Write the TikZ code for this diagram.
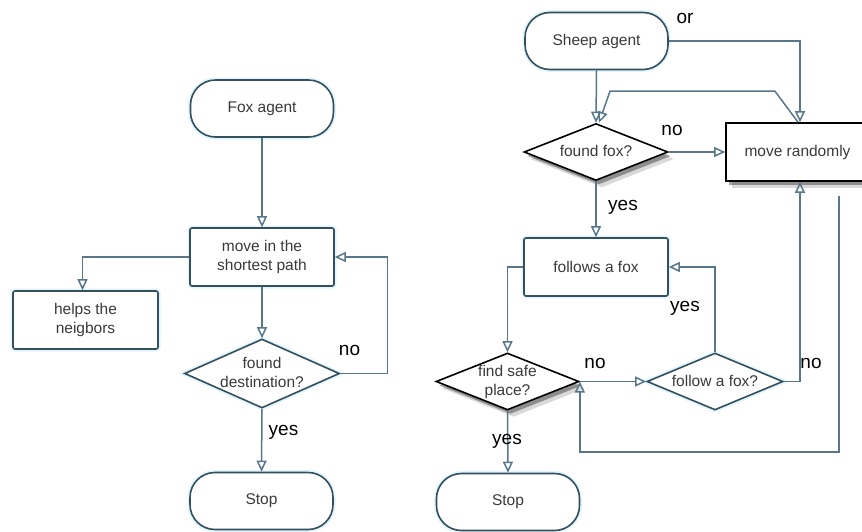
\documentclass[tikz,border=0pt]{standalone}
\usepackage{fontspec}
\setmainfont{Liberation Sans}
\usetikzlibrary{arrows.meta,shapes.geometric,shadows}
\definecolor{linec}{HTML}{58788A}
\definecolor{bordc}{HTML}{34505C}
\definecolor{txtc}{HTML}{3A3A3A}
\newcommand{\ztext}[1]{\smash{\makebox[0pt]{\raisebox{-0.3em}{\begin{tabular}[c]{@{}c@{}}#1\end{tabular}}}}}
\begin{document}
\begin{tikzpicture}[x=1pt,y=-1pt,
 base/.style={draw=bordc, line width=1.6pt, fill=white, text=txtc, font=\fontsize{15.5}{19}\selectfont, align=center, inner sep=0pt},
 glow/.style={preaction={draw=cyan!12, line width=5pt}},
 term/.style={base, glow, rounded corners=25pt, minimum width=143pt, minimum height=57pt},
 proc/.style={base, rounded corners=2pt, minimum width=144pt, minimum height=58pt},
 dec/.style={base, diamond},
 shd/.style={draw=black, drop shadow={shadow xshift=6pt, shadow yshift=-7pt, opacity=.15, fill=black}, drop shadow={shadow xshift=3pt, shadow yshift=-4pt, opacity=.35, fill=black}},
 conn/.style={draw=linec, line width=1.5pt, -{Triangle[open, length=11pt, width=10pt]}},
 lbl/.style={font=\fontsize{19}{22}\selectfont, text=black, inner sep=0pt}
]
\useasboundingbox (0,0) rectangle (862,531);
\clip (0,0) rectangle (862,531);
% Fox column
\node[term] (fox) at (262,108.5) {Fox agent};
\node[proc, glow] (move) at (262,257) {move in the\\shortest path};
\node[proc, glow, minimum width=145pt] (helps) at (85.5,320) {helps the\\neigbors};
\node[dec, glow, minimum width=155pt, minimum height=69pt] (dest) at (262,373.5) {\ztext{found\\destination?}};
\node[term] (stopa) at (261.5,501) {Stop};
\draw[conn] (fox.south) -- (move.north);
\draw[conn] (move.west) -| ([xshift=-3pt]helps.north);
\draw[conn] (move.south) -- (dest.north);
\draw[conn] (dest.east) -- ++(47,0) |- (move.east);
\draw[conn] (dest.south) -- (stopa.north);
\node[lbl] (nodest) at (349.5,350) {no};
\node[lbl] (yesdest) at (283.5,432) {yes};
% Sheep column
\node[term] (sheep) at (596.5,41) {Sheep agent};
\node[dec, shd, minimum width=144pt, minimum height=57pt] (ffox) at (596,152) {\ztext{found fox?}};
\node[proc, shd, rounded corners=0pt, minimum width=143pt] (mrand) at (797.5,152) {move randomly};
\node[proc, glow] (follows) at (596,267) {follows a fox};
\node[dec, shd, minimum width=143pt, minimum height=57pt] (fsafe) at (507.5,381.5) {\ztext{find safe\\place?}};
\node[dec, glow, minimum width=136pt, minimum height=57pt] (ffol) at (715,381.5) {\ztext{follow a fox?}};
\node[term] (stopb) at (508,502) {Stop};
\coordinate (back) at (839,196);
\draw[conn] (sheep.east) -| ([xshift=2.5pt]mrand.north);
\draw[conn] (sheep.south) -- (ffox.north);
\draw[conn] ([xshift=0.5pt]mrand.north) -- ++(-23,-31) -- ++(-165,0) -- ([xshift=3pt]ffox.north);
\draw[conn] (ffox.east) -- (mrand.west);
\draw[conn] (ffox.south) -- (follows.north);
\draw[conn] (follows.west) -| (fsafe.north);
\draw[conn] (fsafe.east) -- (ffol.west);
\draw[conn] (ffol.north) |- (follows.east);
\draw[conn] (ffol.east) -| ([xshift=2.5pt]mrand.south);
\draw[conn] (back) -- ++(0,256) -| (fsafe.east);
\draw[conn] (fsafe.south) -- (stopb.north);
\node[lbl] (orl) at (685,18) {or};
\node[lbl] (noffox) at (672,130) {no};
\node[lbl] (yesffox) at (623,207) {yes};
\node[lbl] (nofsafe) at (595,363) {no};
\node[lbl] (yesffol) at (685,308) {yes};
\node[lbl] (noffol) at (811,363) {no};
\node[lbl] (yesfsafe) at (507,441) {yes};
\end{tikzpicture}
\end{document}
